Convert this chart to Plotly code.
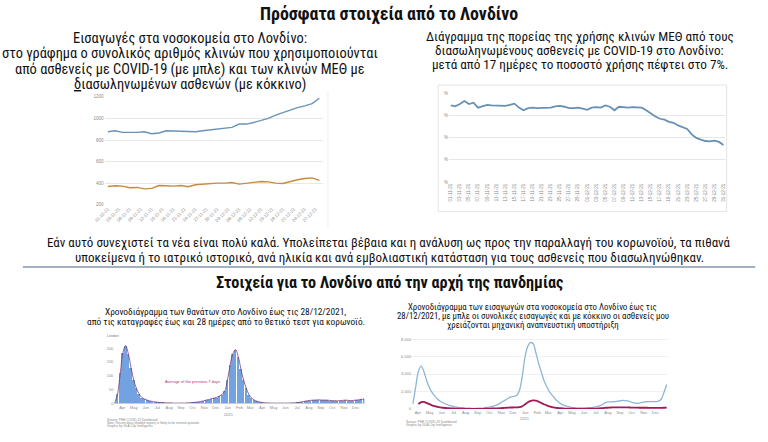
import pandas as pd
import plotly.graph_objects as go

W, H = 768, 442

# ---------------- data ----------------
# Chart 1: London COVID-19 bed occupancy (every 2 days)
beds_dates = pd.date_range("2021-10-31", periods=30, freq="2D")
beds_total = [877, 886, 871, 868, 871, 877, 858, 865, 886, 883, 880, 883, 877, 886, 892,
              901, 911, 917, 948, 948, 963, 985, 1000, 1031, 1055, 1080, 1101, 1117, 1138, 1188]
beds_icu = [369, 375, 372, 357, 360, 347, 351, 378, 375, 372, 378, 366, 385, 391, 397,
            400, 400, 406, 391, 397, 406, 415, 412, 400, 397, 415, 431, 443, 449, 425]
beds_yticks = [200, 400, 600, 800, 1000, 1200]

# Chart 2: ICU bed usage share (daily)
icu_dates = pd.date_range("2021-11-01", periods=61, freq="D")
icu_share = [17.2, 17.0, 17.5, 18.2, 17.5, 17.8, 16.7, 17.0, 17.3, 17.2, 17.2, 17.1, 17.1, 17.3, 17.6,
             16.7, 16.1, 16.6, 16.7, 16.6, 16.6, 16.7, 16.7, 17.0, 17.1, 16.9, 16.6, 16.6, 16.7, 16.5,
             16.2, 16.7, 16.8, 16.7, 17.2, 16.9, 16.1, 16.9, 16.8, 16.7, 16.8, 16.7, 16.7, 16.1, 15.3,
             14.7, 14.2, 14.0, 13.5, 13.3, 12.7, 12.3, 11.9, 10.7, 9.9, 9.5, 9.2, 9.1, 9.3, 9.0, 8.3]
icu_yticks = [0, 5, 10, 15, 20]
icu_yticktext = ["%", "%", "%", "%", "%"]

# Chart 3: London deaths (weekly average of daily deaths, weeks starting Monday)
deaths_week_start = "2020-03-09"
deaths = [4, 35, 110, 185, 210, 180, 130, 85, 55, 35, 22, 16, 12, 9, 7, 5, 4, 3, 3, 2, 2, 2, 1, 1, 1,
          1, 1, 2, 2, 3, 4, 5, 7, 9, 12, 14, 17, 19, 22, 27, 33, 45, 85,
          140, 180, 195, 170, 125, 85, 55, 32, 20, 12, 8, 5, 3, 2, 2, 1, 1, 1, 1, 1, 1, 1, 1, 2, 2, 3,
          4, 6, 8, 10, 11, 12, 12, 13, 12, 12, 12, 11, 10, 10, 9, 10, 11, 12, 11, 10, 11, 12, 13, 15, 16]
deaths_yticks = [0, 50, 100, 150, 200]

# Chart 4: London hospital patients (weekly)
adm_week_start = "2020-03-19"
adm_total = [600, 2500, 4300, 4900, 4300, 3300, 2500, 1900, 1500, 1150, 900, 720, 580, 450, 350,
             280, 220, 170, 140, 120, 100, 90, 80, 80, 90, 110, 140, 180, 230, 290, 380, 500, 680,
             880, 1050, 1250, 1400, 1450, 1550, 2100, 3600, 5800,
             7100, 7600, 7500, 6500, 5300, 4300, 3300, 2600, 2000, 1600, 1200, 900, 650, 480, 350,
             270, 200, 150, 130, 120, 120, 120, 130, 150, 190, 250, 330, 450, 620, 780, 820, 830,
             850, 900, 950, 980, 960, 900, 780, 700, 660, 680, 760, 820, 840, 850, 840, 850, 900,
             1150, 1900, 2800]
adm_vent = [None, None, 550, 800, 820, 700, 560, 430, 330, 250, 190, 150, 120, 95, 75,
            60, 50, 40, 35, 30, 25, 20, 20, 20, 20, 25, 30, 40, 50, 60, 70, 85, 100,
            120, 140, 160, 175, 180, 185, 210, 300, 520,
            750, 900, 980, 950, 850, 700, 550, 420, 310, 220, 160, 120, 90, 70, 55,
            45, 40, 35, 30, 30, 30, 30, 35, 40, 45, 55, 70, 90, 120, 150, 170, 180,
            190, 195, 200, 200, 195, 185, 170, 160, 155, 150, 150, 150, 145, 140, 135, 130, 130,
            135, 145, 160]
adm_yticks = [0, 2000, 4000, 6000, 8000]

month_ticks = pd.date_range("2020-04-01", "2021-12-01", freq="MS")
month_labels = [d.strftime("%b") for d in month_ticks]

# ---------------- helpers ----------------
def px_x(p):
    return p / W

def px_y(p):
    return 1 - p / H

FONT = "Roboto Condensed, DejaVu Sans Condensed, Liberation Sans, Arial, sans-serif"

fig = go.Figure()

# Chart 1
fig.add_trace(go.Scatter(x=beds_dates, y=beds_total, mode="lines", line=dict(color="#6a93b8", width=1.4),
                         xaxis="x", yaxis="y", showlegend=False))
fig.add_trace(go.Scatter(x=beds_dates, y=beds_icu, mode="lines", line=dict(color="#c98a3c", width=1.4),
                         xaxis="x", yaxis="y", showlegend=False))

# Chart 2
fig.add_trace(go.Scatter(x=icu_dates, y=icu_share, mode="lines", line=dict(color="#6890b4", width=1.8),
                         xaxis="x2", yaxis="y2", showlegend=False))

# Chart 3
d_dates = pd.date_range(deaths_week_start, periods=len(deaths), freq="7D") + pd.Timedelta(hours=84)
fig.add_trace(go.Bar(x=d_dates, y=deaths, marker=dict(color="#72a2e0", line=dict(width=0)),
                     width=7 * 86400000 * 0.9, xaxis="x3", yaxis="y3", showlegend=False))
fig.add_trace(go.Scatter(x=d_dates, y=deaths, mode="lines", line=dict(color="#7a3a78", width=0.8, shape="spline"),
                         xaxis="x3", yaxis="y3", showlegend=False))

# Chart 4
a_dates = pd.date_range(adm_week_start, periods=len(adm_total), freq="7D")
v_dates = pd.date_range(adm_week_start, periods=len(adm_vent), freq="7D")
fig.add_trace(go.Scatter(x=a_dates, y=adm_total, mode="lines", line=dict(color="#8db6d6", width=1.3, shape="spline"),
                         xaxis="x4", yaxis="y4", showlegend=False))
fig.add_trace(go.Scatter(x=v_dates, y=adm_vent, mode="lines", line=dict(color="#a3195b", width=1.8, shape="spline"),
                         xaxis="x4", yaxis="y4", showlegend=False))

tickfont = dict(family="Liberation Sans, Arial", size=4.5, color="#8a8a8a")

beds_xt = pd.date_range("2021-10-31", periods=20, freq="3D")
icu_xt = pd.date_range("2021-11-01", periods=31, freq="2D")

fig.update_layout(
    width=W, height=H, margin=dict(l=0, r=0, t=0, b=0),
    paper_bgcolor="white", plot_bgcolor="white",
    font=dict(family=FONT, color="#111"),
    hovermode=False,
    xaxis=dict(domain=[px_x(95), px_x(317)], type="date", range=["2021-10-30 02:00", "2021-12-29"],
               tickvals=list(beds_xt), ticktext=[d.strftime("%d-%m-%y") for d in beds_xt],
               tickangle=-45, tickfont=tickfont, showgrid=False, showline=False, ticks=""),
    yaxis=dict(domain=[px_y(205), px_y(96)], range=[200, 1200], tickvals=beds_yticks,
               tickfont=tickfont, gridcolor="#e8e8e8", zeroline=False, ticks="", anchor="x"),
    xaxis2=dict(domain=[px_x(445), px_x(725)], type="date", range=["2021-10-31 15:00", "2021-12-31 06:00"],
                tickvals=list(icu_xt), ticktext=[d.strftime("%d-%m-%y") for d in icu_xt],
                tickangle=-90, tickfont=tickfont, showgrid=False, showline=False, ticks="", anchor="y2"),
    yaxis2=dict(domain=[px_y(182), px_y(92)], range=[0, 20], tickvals=icu_yticks, ticktext=icu_yticktext,
                tickfont=tickfont, gridcolor="#e6e6e6", zeroline=False, ticks="", anchor="x2"),
    xaxis3=dict(domain=[px_x(105), px_x(359)], type="date", range=["2020-03-11", "2021-12-24"],
                tickvals=list(month_ticks), ticktext=month_labels, tickangle=0,
                tickfont=dict(family="Liberation Sans, Arial", size=4, color="#8a8a8a"),
                showgrid=False, showline=True, linecolor="#cccccc", linewidth=0.5, ticks="", anchor="y3"),
    yaxis3=dict(domain=[px_y(406), px_y(344.7)], range=[0, 220], tickvals=deaths_yticks,
                tickfont=dict(family="Liberation Sans, Arial", size=4, color="#8a8a8a"),
                showgrid=False, zeroline=False, ticks="", anchor="x3"),
    xaxis4=dict(domain=[px_x(407.5), px_x(666.5)], type="date", range=["2020-03-17", "2021-12-31"],
                tickvals=list(month_ticks), ticktext=month_labels, tickangle=0,
                tickfont=dict(family="Liberation Sans, Arial", size=4, color="#8a8a8a"),
                showgrid=False, showline=False, ticks="", anchor="y4"),
    yaxis4=dict(domain=[px_y(411.7), px_y(339.2)], range=[0, 8200], tickvals=adm_yticks, tickformat=",",
                tickfont=dict(family="Liberation Sans, Arial", size=4, color="#8a8a8a"),
                showgrid=True, gridcolor="#f0f0f0", zeroline=False, ticks="", anchor="x4"),
    bargap=0,
)

ann = []

def text(px, py, s, size, bold=False, color="#111", anchor="center", family=FONT):
    ann.append(dict(x=px_x(px), y=px_y(py), xref="paper", yref="paper", text=("<b>%s</b>" % s) if bold else s,
                    showarrow=False, xanchor=anchor, yanchor="middle", borderpad=0,
                    font=dict(size=size, color=color, family=family)))

text(384, 12, "Πρόσφατα στοιχεία από το Λονδίνο", 17.9, bold=True)
left_lines = ["Εισαγωγές στα νοσοκομεία στο Λονδίνο:",
              "στο γράφημα ο συνολικός αριθμός κλινών που χρησιμοποιούνται",
              "από ασθενείς με COVID-19 (με μπλε) και των κλινών ΜΕΘ με",
              "<u>δ</u>ιασωληνωμένων ασθενών (με κόκκινο)"]
for i, s in enumerate(left_lines):
    text(182, 37 + 15.5 * i, s, 14.4)
right_lines = ["Διάγραμμα της πορείας της χρήσης κλινών ΜΕΘ από τους",
               "διασωληνωμένους ασθενείς με COVID-19 στο Λονδίνο:",
               "μετά από 17 ημέρες το ποσοστό χρήσης πέφτει στο 7%."]
for i, s in enumerate(right_lines):
    text(578, 35 + 14.3 * i, s, 13.2)
mid_lines = ["Εάν αυτό συνεχιστεί τα νέα είναι πολύ καλά. Υπολείπεται βέβαια και η ανάλυση ως προς την παραλλαγή του κορωνοϊού, τα πιθανά",
             "υποκείμενα ή το ιατρικό ιστορικό, ανά ηλικία και ανά εμβολιαστική κατάσταση για τους ασθενείς που διασωληνώθηκαν."]
for i, s in enumerate(mid_lines):
    text(384, 243 + 15.5 * i, s, 13)
text(384, 284, "Στοιχεία για το Λονδίνο από την αρχή της πανδημίας", 16.2, bold=True)

bl_lines = ["Χρονοδιάγραμμα των θανάτων στο Λονδίνο έως τις 28/12/2021,",
            "από τις καταγραφές έως και 28 ημέρες από το θετικό τεστ για κορωνοϊό."]
for i, s in enumerate(bl_lines):
    text(218, 313 + 10 * i, s, 9.35)
br_lines = ["Χρονοδιάγραμμα των εισαγωγών στα νοσοκομεία στο Λονδίνο έως τις",
            "28/12/2021, με μπλε οι συνολικές εισαγωγές και με κόκκινο οι ασθενείς μου",
            "χρειάζονται μηχανική αναπνευστική υποστήριξη"]
for i, s in enumerate(br_lines):
    text(530, 308 + 9.2 * i, s, 8.8)

small = "Liberation Sans, Arial"
text(97, 338, "London", 3.5, color="#777", anchor="left", family=small)
text(184, 384, "Average of the previous 7 days", 4, color="#b4346f", family=small)
text(221.5, 417, "2021", 4, color="#8a8a8a", family=small)
text(522.5, 421, "2021", 4, color="#8a8a8a", family=small)
for i, s in enumerate(["Source: PHE COVID-19 Dashboard",
                       "Note: Recent data (shaded region) is likely to be revised upwards",
                       "Graphic by GLA City Intelligence"]):
    text(96, 423 + 3 * i, s, 3.2, color="#888", anchor="left", family=small)
for i, s in enumerate(["Source: PHE COVID-19 Dashboard", "Graphic by GLA City Intelligence"]):
    text(400, 425 + 3 * i, s, 3.2, color="#888", anchor="left", family=small)

fig.update_layout(annotations=ann)

fig.update_layout(shapes=[
    dict(type="line", xref="paper", yref="paper", x0=px_x(12), x1=px_x(756), y0=px_y(268), y1=px_y(268),
         line=dict(color="#8497b0", width=1.5)),
    dict(type="rect", xref="paper", yref="paper", x0=px_x(434), x1=px_x(727), y0=px_y(212), y1=px_y(84),
         line=dict(color="#e3e3e3", width=1)),
    dict(type="line", xref="paper", yref="paper", x0=px_x(322), x1=px_x(322), y0=px_y(228), y1=px_y(90),
         line=dict(color="#eeeeee", width=1)),
])

fig.write_html("out.html", config={"displayModeBar": False},
               post_script="document.body.style.margin='0px';")
